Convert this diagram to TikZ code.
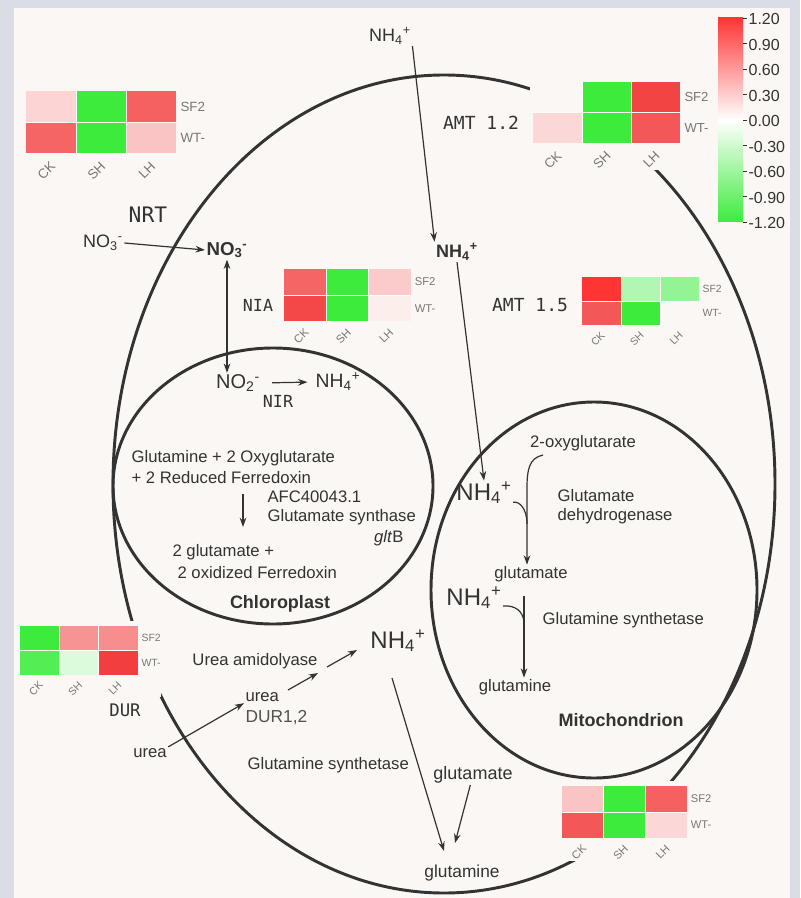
\documentclass[tikz,border=0pt]{standalone}
\usepackage{fontspec}
\setmainfont{Liberation Sans}
\newfontfamily\genefont{DejaVu Sans Mono}
\usetikzlibrary{arrows.meta}

\definecolor{frame}{HTML}{DADDE3}
\definecolor{panel}{HTML}{FBF7F4}
\definecolor{ink}{HTML}{333333}
\definecolor{soft}{HTML}{777777}
\definecolor{hred}{HTML}{F23A3A}
\definecolor{hgreen}{HTML}{3DEB3D}
\definecolor{cbred}{HTML}{FF3535}

\newcommand{\nhf}{NH\textsubscript{4}\textsuperscript{+}}
\newcommand{\nothree}{NO\textsubscript{3}\textsuperscript{-}}
\newcommand{\notwo}{NO\textsubscript{2}\textsuperscript{-}}

\tikzset{
  txt/.style={text=ink, inner sep=1pt, font=\fontsize{12.5}{14}\selectfont},
  ion/.style={text=ink, inner sep=1pt, font=\fontsize{13.5}{15}\selectfont},
  bigion/.style={text=ink, inner sep=1pt, font=\fontsize{18}{20}\selectfont},
  gene/.style={text=ink, inner sep=1pt, font=\genefont\fontsize{12.5}{14}\selectfont},
  hlab/.style={text=soft, inner sep=1pt, font=\fontsize{10}{11}\selectfont},
  cbtxt/.style={text=ink, inner sep=1pt, font=\fontsize{12}{13}\selectfont},
  arr/.style={->, draw=ink, line width=0.9pt},
  memb/.style={draw=ink, line width=2.2pt}
}

% heatmap: name, origin, scale, SF2 row colours, WT row colours
\newcommand{\hmap}[9]{%
  \begin{scope}[shift={#2},scale=#3,transform shape]
    \fill[panel] (-3,-6) rectangle (180,90);
    \foreach \c [count=\i from 0] in {#4,#5,#6,#7,#8,#9}{
      \pgfmathtruncatemacro\cx{mod(\i,3)}
      \pgfmathtruncatemacro\cy{\i/3}
      \fill[\c] (50*\cx,31*\cy) rectangle ++(50,31);
    }
    \draw[white!60!panel,line width=.5pt] (0,31) -- (150,31) (50,0) -- (50,62) (100,0) -- (100,62);
    \node[hlab,anchor=west] (#1-sf) at (153,15.5) {SF2};
    \node[hlab,anchor=west] (#1-wt) at (153,46.5) {WT-};
    \foreach \t [count=\i from 0] in {CK,SH,LH}
      \node[hlab,rotate=45,anchor=east] (#1-\t) at (50*\i+28,72) {\t};
  \end{scope}}

\begin{document}
\begin{tikzpicture}[x=0.75pt,y=-0.75pt,>={Stealth[length=7pt,width=5pt]}]
  \useasboundingbox (0,0) rectangle (800,898);
  \fill[frame] (0,0) rectangle (800,898);
  \fill[panel] (14,8) rectangle (790,898);

  % membranes
  \draw[memb] (444,484) ellipse [x radius=331, y radius=409];
  \draw[memb] (273,486) ellipse [x radius=160, y radius=138];
  \draw[memb] (594,590) ellipse [x radius=163, y radius=188];

  % heatmaps
  \hmap{tl}{(26,91)}{1}{hred!22!white}{hgreen}{hred!80!white}{hred!78!white}{hgreen}{hred!30!white}
  \hmap{amta}{(533,82)}{0.98}{panel}{hgreen}{hred!95!white}{hred!20!white}{hgreen}{hred!85!white}
  \hmap{nia}{(284,269)}{0.846}{hred!78!white}{hgreen}{hred!27!white}{hred!93!white}{hgreen}{hred!5!panel}
  \hmap{amtb}{(582,277)}{0.78}{cbred}{hgreen!40!white}{hgreen!55!white}{hred!85!white}{hgreen}{panel}
  \hmap{dur}{(20,626)}{0.786}{hgreen}{hred!55!white}{hred!58!white}{hgreen!88!white}{hgreen!18!white}{hred!98!white}
  \hmap{br}{(562,786)}{0.834}{hred!30!white}{hgreen}{hred!80!white}{hred!85!white}{hgreen}{hred!20!white}

  % colour bar
  \shade[top color=cbred, middle color=cbred!55!white, bottom color=white] (718,18) rectangle (743,120);
  \shade[top color=white, middle color=hgreen!45!white, bottom color=hgreen] (718,120) rectangle (743,222);
  \foreach \v [count=\i from 0] in {1.20,0.90,0.60,0.30,0.00,-0.30,-0.60,-0.90,-1.20}{
    \draw[ink,line width=.6pt] (743,18+25.5*\i) -- (747,18+25.5*\i);
    \node[cbtxt,anchor=west] (cb\i) at (747,19+25.5*\i) {\v};
  }

  % cytosol: nitrate and ammonium uptake
  \node[ion] (nhtop) at (390,36) {\nhf};
  \node[ion,font=\bfseries\fontsize{13.5}{15}\selectfont] (nhcyt) at (457,252) {\nhf};
  \node[gene,font=\genefont\fontsize{13.5}{15}\selectfont] (amta) at (481,123) {AMT 1.2};
  \node[gene,font=\genefont\fontsize{13.5}{15}\selectfont] (amtb) at (530,305) {AMT 1.5};
  \node[gene,font=\genefont\fontsize{16}{18}\selectfont] (nrt) at (148,215) {NRT};
  \node[ion] (noout) at (103,243) {\nothree};
  \node[ion,font=\bfseries\fontsize{14}{16}\selectfont] (noin) at (227,250) {\nothree};
  \node[gene] (nia) at (258,305) {NIA};
  \node[gene,font=\genefont\fontsize{13}{14}\selectfont] (dur) at (125,710) {DUR};

  \draw[arr] (nhtop.south east) -- (nhcyt.north west);
  \draw[arr] (noout.east) -- (noin.west);

  % chloroplast
  \node[ion,font=\fontsize{15}{17}\selectfont] (no2) at (238,383) {\notwo};
  \node[ion,font=\fontsize{14.5}{16}\selectfont] (nhcp) at (338,382) {\nhf};
  \node[gene] (nir) at (278,401) {NIR};
  \draw[arr,<->] (noin.south) -- (noin.south |- no2.north);
  \draw[arr,shorten <=8pt,shorten >=5pt] (no2.east) -- (nhcp.west);

  \node[txt,anchor=west] (gluA) at (130,458) {Glutamine + 2 Oxyglutarate};
  \node[txt,anchor=west] (gluB) at (130,478) {+ 2 Reduced Ferredoxin};
  \node[txt,anchor=west] (afc) at (266,497) {AFC40043.1};
  \node[txt,anchor=west] (gsyn) at (266,517) {Glutamate synthase};
  \node[txt,anchor=east] (glt) at (405,538) {\textit{glt}B};
  \node[txt,anchor=west] (glutB) at (171,552) {2 glutamate +};
  \node[txt,anchor=west] (ferrB) at (176,573) {2 oxidized Ferredoxin};
  \node[txt,font=\bfseries\fontsize{13.5}{15}\selectfont] (chloro) at (280,604) {Chloroplast};
  \coordinate (cpA) at (243,494);
  \coordinate (cpB) at (243,527);
  \draw[arr] (cpA) -- (cpB);

  % mitochondrion
  \node[txt] (oxo) at (583,443) {2-oxyglutarate};
  \node[bigion] (nhm1) at (484,493) {\nhf};
  \node[txt,anchor=west,align=left] (gdh) at (556,507) {Glutamate\\dehydrogenase};
  \node[txt] (glum) at (531,574) {glutamate};
  \node[bigion] (nhm2) at (474,598) {\nhf};
  \node[txt,anchor=west] (gsm) at (541,620) {Glutamine synthetase};
  \node[txt] (glnm) at (515,687) {glutamine};
  \node[txt,font=\bfseries\fontsize{13.5}{15}\selectfont] (mito) at (621,720) {Mitochondrion};

  \draw[arr] (nhcyt.south) -- (nhm1.north);
  \coordinate (oxA) at (543,455);
  \coordinate (mJ) at (527,488);
  \draw[arr] (oxA) .. controls (529,458) and (527,470) .. (mJ) -- (mJ |- glum.north);
  \draw[ink,line width=0.9pt] ([yshift=-7pt]nhm1.east) .. controls (519,501) and (527,508) .. (527,524);
  \coordinate (mK) at (524,596);
  \draw[arr] (mK) -- (mK |- glnm.north);
  \draw[ink,line width=0.9pt] ([yshift=-6pt]nhm2.east) .. controls (515,605) and (523,611) .. (524,622);

  % urea and glutamine in the cytosol
  \node[bigion] (nhlow) at (398,641) {\nhf};
  \node[txt] (ureaam) at (255,661) {Urea amidolyase};
  \node[txt,anchor=west] (urea1) at (244,697) {urea};
  \node[txt,anchor=west,text=ink!85,font=\fontsize{13}{15}\selectfont] (dur12) at (244,718) {DUR1,2};
  \node[txt] (urea0) at (150,753) {urea};
  \node[txt,anchor=west] (gslow) at (246,765) {Glutamine synthetase};
  \node[txt,font=\fontsize{13.5}{15}\selectfont] (glulow) at (473,775) {glutamate};
  \node[txt,font=\fontsize{13}{15}\selectfont] (glnlow) at (462,873) {glutamine};

  \coordinate (ubA) at (288,690);
  \coordinate (ubB) at (318,673);
  \coordinate (uaA) at (327,667);
  \coordinate (uaB) at (357,650);
  \coordinate (nlA) at (392,678);
  \coordinate (nlB) at (444,851);
  \coordinate (glB) at (455,843);
  \draw[arr] (urea0.north east) -- (urea1.south west);
  \draw[arr] (ubA) -- (ubB);
  \draw[arr] (uaA) -- (uaB);
  \draw[arr] (nlA) -- (nlB);
  \draw[arr] ([xshift=-2pt]glulow.south) -- (glB);
\end{tikzpicture}
\end{document}
